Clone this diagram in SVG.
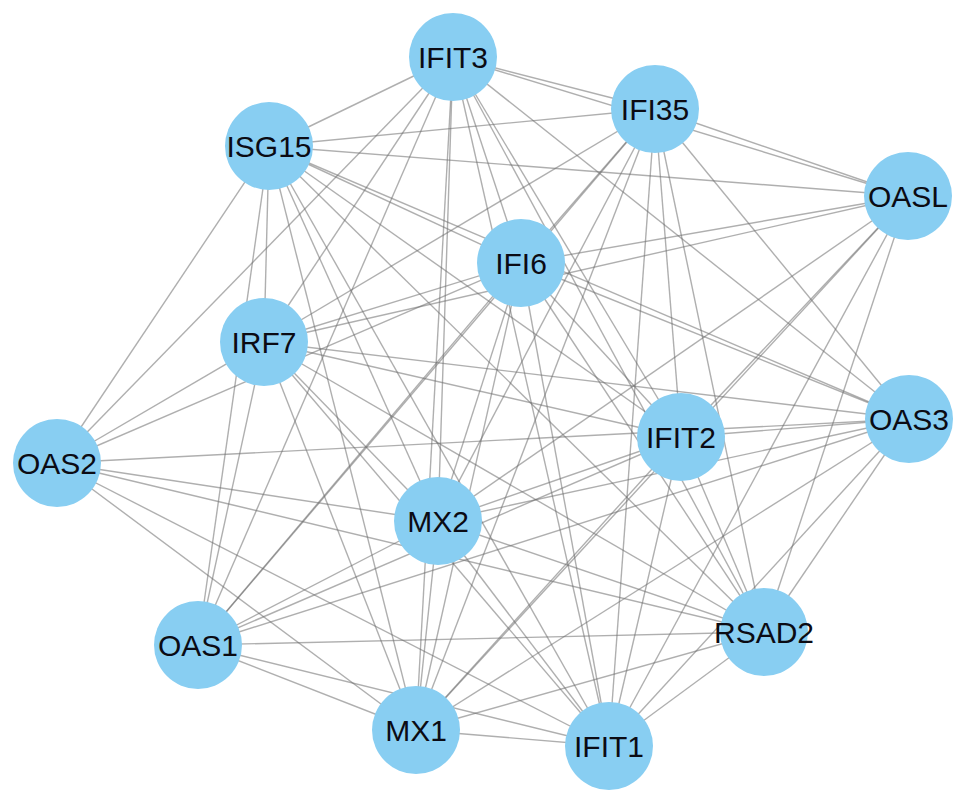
<svg xmlns="http://www.w3.org/2000/svg" width="969" height="806" viewBox="0 0 969 806">
<style>
.e line{stroke:#6e6e6e;stroke-opacity:0.55;stroke-width:1.4}
.n circle{fill:#88CEF2}
.n text{font-family:"Liberation Sans",Arial,sans-serif;font-size:30px;fill:#0b0b14;text-anchor:middle}
</style>
<rect width="969" height="806" fill="#fff"/>
<g class="e" id="edges">
<line x1="453" y1="57" x2="655" y2="109"/><line x1="453" y1="57" x2="269" y2="146"/><line x1="453" y1="57" x2="908" y2="196"/><line x1="453" y1="57" x2="521" y2="263"/><line x1="453" y1="57" x2="264" y2="342"/><line x1="453" y1="57" x2="909" y2="419"/><line x1="453" y1="57" x2="681" y2="437"/><line x1="453" y1="57" x2="57" y2="463"/><line x1="453" y1="57" x2="438" y2="521"/><line x1="453" y1="57" x2="764" y2="632"/><line x1="453" y1="57" x2="198" y2="645"/><line x1="453" y1="57" x2="416" y2="730"/><line x1="453" y1="57" x2="609" y2="746"/>
<line x1="655" y1="109" x2="269" y2="146"/><line x1="655" y1="109" x2="908" y2="196"/><line x1="655" y1="109" x2="521" y2="263"/><line x1="655" y1="109" x2="264" y2="342"/><line x1="655" y1="109" x2="909" y2="419"/><line x1="655" y1="109" x2="681" y2="437"/><line x1="655" y1="109" x2="438" y2="521"/><line x1="655" y1="109" x2="764" y2="632"/><line x1="655" y1="109" x2="198" y2="645"/><line x1="655" y1="109" x2="416" y2="730"/><line x1="655" y1="109" x2="609" y2="746"/>
<line x1="269" y1="146" x2="908" y2="196"/><line x1="269" y1="146" x2="521" y2="263"/><line x1="269" y1="146" x2="264" y2="342"/><line x1="269" y1="146" x2="909" y2="419"/><line x1="269" y1="146" x2="681" y2="437"/><line x1="269" y1="146" x2="57" y2="463"/><line x1="269" y1="146" x2="438" y2="521"/><line x1="269" y1="146" x2="764" y2="632"/><line x1="269" y1="146" x2="198" y2="645"/><line x1="269" y1="146" x2="416" y2="730"/><line x1="269" y1="146" x2="609" y2="746"/>
<line x1="908" y1="196" x2="521" y2="263"/><line x1="908" y1="196" x2="264" y2="342"/><line x1="908" y1="196" x2="681" y2="437"/><line x1="908" y1="196" x2="438" y2="521"/><line x1="908" y1="196" x2="764" y2="632"/><line x1="908" y1="196" x2="416" y2="730"/><line x1="908" y1="196" x2="609" y2="746"/>
<line x1="521" y1="263" x2="264" y2="342"/><line x1="521" y1="263" x2="909" y2="419"/><line x1="521" y1="263" x2="681" y2="437"/><line x1="521" y1="263" x2="57" y2="463"/><line x1="521" y1="263" x2="438" y2="521"/><line x1="521" y1="263" x2="764" y2="632"/><line x1="521" y1="263" x2="198" y2="645"/><line x1="521" y1="263" x2="416" y2="730"/><line x1="521" y1="263" x2="609" y2="746"/>
<line x1="264" y1="342" x2="909" y2="419"/><line x1="264" y1="342" x2="681" y2="437"/><line x1="264" y1="342" x2="57" y2="463"/><line x1="264" y1="342" x2="438" y2="521"/><line x1="264" y1="342" x2="764" y2="632"/><line x1="264" y1="342" x2="198" y2="645"/><line x1="264" y1="342" x2="416" y2="730"/><line x1="264" y1="342" x2="609" y2="746"/>
<line x1="909" y1="419" x2="681" y2="437"/><line x1="909" y1="419" x2="57" y2="463"/><line x1="909" y1="419" x2="438" y2="521"/><line x1="909" y1="419" x2="764" y2="632"/><line x1="909" y1="419" x2="198" y2="645"/><line x1="909" y1="419" x2="416" y2="730"/><line x1="909" y1="419" x2="609" y2="746"/>
<line x1="681" y1="437" x2="438" y2="521"/><line x1="681" y1="437" x2="764" y2="632"/><line x1="681" y1="437" x2="198" y2="645"/><line x1="681" y1="437" x2="416" y2="730"/><line x1="681" y1="437" x2="609" y2="746"/>
<line x1="57" y1="463" x2="438" y2="521"/><line x1="57" y1="463" x2="764" y2="632"/><line x1="57" y1="463" x2="416" y2="730"/><line x1="57" y1="463" x2="609" y2="746"/>
<line x1="438" y1="521" x2="764" y2="632"/><line x1="438" y1="521" x2="198" y2="645"/><line x1="438" y1="521" x2="416" y2="730"/><line x1="438" y1="521" x2="609" y2="746"/>
<line x1="764" y1="632" x2="198" y2="645"/><line x1="764" y1="632" x2="416" y2="730"/><line x1="764" y1="632" x2="609" y2="746"/>
<line x1="198" y1="645" x2="416" y2="730"/><line x1="198" y1="645" x2="609" y2="746"/>
<line x1="416" y1="730" x2="609" y2="746"/>
</g>
<g class="n" id="IFIT3"><circle cx="453" cy="57" r="44"/><text x="453" y="68">IFIT3</text></g>
<g class="n" id="IFI35"><circle cx="655" cy="109" r="44"/><text x="655" y="120">IFI35</text></g>
<g class="n" id="ISG15"><circle cx="269" cy="146" r="44"/><text x="269" y="157">ISG15</text></g>
<g class="n" id="OASL"><circle cx="908" cy="196" r="44"/><text x="908" y="207">OASL</text></g>
<g class="n" id="IFI6"><circle cx="521" cy="263" r="44"/><text x="521" y="274">IFI6</text></g>
<g class="n" id="IRF7"><circle cx="264" cy="342" r="44"/><text x="264" y="353">IRF7</text></g>
<g class="n" id="OAS3"><circle cx="909" cy="419" r="44"/><text x="909" y="430">OAS3</text></g>
<g class="n" id="IFIT2"><circle cx="681" cy="437" r="44"/><text x="681" y="448">IFIT2</text></g>
<g class="n" id="OAS2"><circle cx="57" cy="463" r="44"/><text x="57" y="474">OAS2</text></g>
<g class="n" id="MX2"><circle cx="438" cy="521" r="44"/><text x="438" y="532">MX2</text></g>
<g class="n" id="RSAD2"><circle cx="764" cy="632" r="44"/><text x="764" y="643">RSAD2</text></g>
<g class="n" id="OAS1"><circle cx="198" cy="645" r="44"/><text x="198" y="656">OAS1</text></g>
<g class="n" id="MX1"><circle cx="416" cy="730" r="44"/><text x="416" y="741">MX1</text></g>
<g class="n" id="IFIT1"><circle cx="609" cy="746" r="44"/><text x="609" y="757">IFIT1</text></g>
</svg>
